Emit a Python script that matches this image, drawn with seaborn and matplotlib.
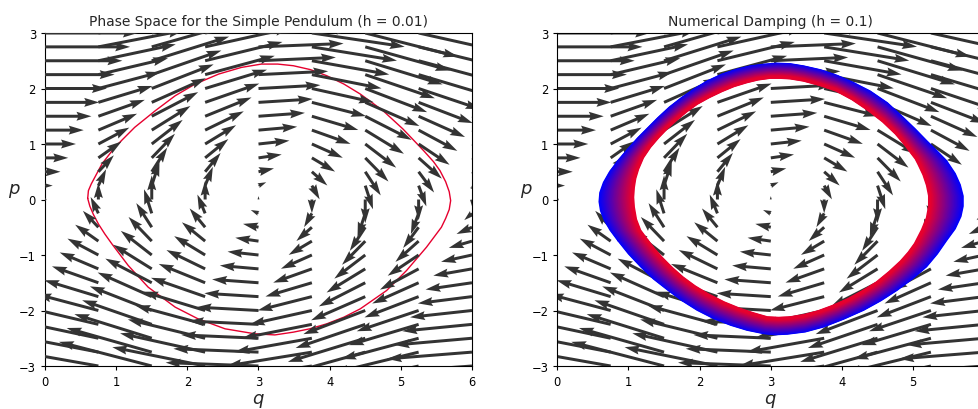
import numpy as np
import pandas as pd
import seaborn as sns
import matplotlib
matplotlib.use('Agg')
import matplotlib.pyplot as plt

# vector field grid (q columns, p rows) and vertical component read per column
q_cols = [0.0, 0.75, 1.5, 2.25, 3.0, 3.75, 4.5, 5.25, 6.0]
p_rows = [-3.0, -2.75, -2.5, -2.25, -2.0, -1.75, -1.5, -1.25, -1.0, -0.75, -0.5, -0.25,
          0.0, 0.25, 0.5, 0.75, 1.0, 1.25, 1.5, 1.75, 2.0, 2.25, 2.5, 2.75, 3.0]
v_col = [0.0, 0.68, 1.0, 0.78, 0.14, -0.57, -0.98, -0.86, -0.28]

# left panel orbit (h = 0.01), (q, p) pairs
orbit_pts = [(0.60, 0.02), (0.61, 0.16), (0.65, 0.28), (0.70, 0.40), (0.80, 0.64), (0.98, 0.94),
             (1.26, 1.30), (1.55, 1.60), (1.83, 1.87), (2.11, 2.08), (2.44, 2.26), (2.76, 2.38),
             (3.04, 2.44), (3.27, 2.44), (3.49, 2.41), (3.73, 2.34), (3.96, 2.23), (4.20, 2.08),
             (4.43, 1.90), (4.75, 1.60), (5.03, 1.27), (5.32, 0.88), (5.46, 0.68), (5.55, 0.52),
             (5.63, 0.32), (5.68, 0.14), (5.70, -0.02), (5.68, -0.18), (5.63, -0.34), (5.57, -0.50),
             (5.36, -0.86), (5.08, -1.28), (4.80, -1.64), (4.43, -1.97), (4.20, -2.12), (3.96, -2.24),
             (3.72, -2.33), (3.49, -2.39), (3.23, -2.44), (2.95, -2.42), (2.53, -2.33), (2.15, -2.15),
             (1.83, -1.94), (1.45, -1.58), (1.17, -1.19), (0.94, -0.80), (0.84, -0.62), (0.75, -0.44),
             (0.68, -0.27), (0.63, -0.12)]

# right panel band (h = 0.1): first orbit (blue, outside) and last orbit (red, inside)
outer_pts = [(0.86, -0.73), (0.75, -0.54), (0.67, -0.36), (0.62, -0.20), (0.60, -0.04),
             (0.61, 0.12), (0.66, 0.30), (0.74, 0.48), (0.86, 0.69),
             (1.00, 0.90), (1.14, 1.10), (1.28, 1.28), (1.42, 1.46), (1.58, 1.65), (1.75, 1.82),
             (1.93, 1.98), (2.11, 2.12), (2.31, 2.24), (2.52, 2.33), (2.71, 2.39), (2.90, 2.42),
             (3.08, 2.44), (3.27, 2.43),
             (3.46, 2.39), (3.70, 2.32), (3.93, 2.22), (4.16, 2.09), (4.39, 1.94), (4.63, 1.73),
             (4.85, 1.47), (5.02, 1.26), (5.18, 1.05), (5.33, 0.86),
             (5.46, 0.69), (5.58, 0.46), (5.65, 0.26), (5.69, 0.06), (5.69, -0.12), (5.66, -0.30),
             (5.58, -0.52), (5.46, -0.73),
             (5.33, -0.97), (5.18, -1.20), (4.98, -1.42), (4.77, -1.62), (4.54, -1.81), (4.30, -1.98),
             (4.02, -2.14), (3.74, -2.28), (3.48, -2.37), (3.23, -2.41),
             (3.06, -2.42), (2.90, -2.40), (2.67, -2.34), (2.44, -2.25), (2.20, -2.13), (1.97, -1.98),
             (1.76, -1.81), (1.56, -1.62), (1.36, -1.42), (1.18, -1.20), (1.01, -0.97)]
inner_pts = [(1.27, -0.75), (1.16, -0.56), (1.10, -0.36), (1.07, -0.14), (1.06, 0.04),
             (1.07, 0.22), (1.09, 0.38), (1.13, 0.55), (1.20, 0.76),
             (1.30, 0.95), (1.42, 1.13), (1.54, 1.29), (1.67, 1.44), (1.81, 1.59), (1.96, 1.73),
             (2.13, 1.85), (2.31, 1.96), (2.48, 2.05), (2.66, 2.12), (2.82, 2.17), (2.99, 2.20),
             (3.13, 2.20), (3.27, 2.19),
             (3.46, 2.15), (3.69, 2.07), (3.92, 1.97), (4.15, 1.81), (4.38, 1.61), (4.58, 1.41),
             (4.76, 1.19), (4.88, 1.01), (4.98, 0.84), (5.04, 0.74),
             (5.08, 0.64), (5.15, 0.45), (5.20, 0.26), (5.23, 0.07), (5.23, -0.12), (5.20, -0.33),
             (5.13, -0.55), (5.03, -0.80),
             (4.94, -0.96), (4.83, -1.12), (4.67, -1.31), (4.49, -1.50), (4.29, -1.66), (4.09, -1.80),
             (3.88, -1.92), (3.67, -2.02), (3.47, -2.09), (3.27, -2.13),
             (3.11, -2.14), (2.95, -2.13), (2.76, -2.06), (2.57, -1.98), (2.34, -1.86), (2.11, -1.71),
             (1.93, -1.57), (1.76, -1.41), (1.61, -1.24), (1.47, -1.06), (1.36, -0.90)]

n_orbits = 45
arrow_color = '#333333'
red = '#e6002e'

sns.set_style('ticks')
plt.rcParams['font.family'] = ['DejaVu Sans']
plt.rcParams['axes.edgecolor'] = 'black'
plt.rcParams['xtick.color'] = 'black'
plt.rcParams['ytick.color'] = 'black'

fig = plt.figure(figsize=(9.79, 4.10), dpi=100)
W, H = 979, 410
ax1 = fig.add_axes([45 / W, 43 / H, 427 / W, 333 / H])
ax2 = fig.add_axes([557.3 / W, 43 / H, 427 / W, 333 / H])

Q, P = np.meshgrid(q_cols, p_rows)
U = P
V = np.tile(v_col, (len(p_rows), 1))

# left: orbit below the arrows
closed = orbit_pts + orbit_pts[:1]
left_df = pd.DataFrame(closed, columns=['q', 'p'])
sns.lineplot(data=left_df, x='q', y='p', sort=False, estimator=None, color=red,
             lw=1.0, ax=ax1, zorder=2)
ax1.quiver(Q, P, U, V, angles='xy', scale_units='xy', scale=2.3, color=arrow_color,
           width=0.007, zorder=3)

# right: arrows first, then the damped band on top
ax2.quiver(Q, P, U, V, angles='xy', scale_units='xy', scale=2.3, color=arrow_color,
           width=0.007, zorder=2)
rows = []
outer = outer_pts + outer_pts[:1]
inner = inner_pts + inner_pts[:1]
for k in range(n_orbits):
    t = k / (n_orbits - 1)
    for (a, b), (c, d) in zip(outer, inner):
        rows.append((a * (1 - t) + c * t, b * (1 - t) + d * t, k))
band_df = pd.DataFrame(rows, columns=['q', 'p', 'orbit'])
pal = sns.blend_palette(['#0000ff', red], n_colors=n_orbits)
sns.lineplot(data=band_df, x='q', y='p', hue='orbit', palette=pal, sort=False,
             estimator=None, lw=2.2, legend=False, ax=ax2, zorder=4)

for ax, title in [(ax1, 'Phase Space for the Simple Pendulum (h = 0.01)'),
                  (ax2, 'Numerical Damping (h = 0.1)')]:
    ax.set_xlim(0, 6)
    ax.set_ylim(-3, 3)
    ax.set_yticks(range(-3, 4))
    ax.tick_params(labelsize=8.3, length=3, width=0.8)
    ax.set_title(title, fontsize=10, pad=6)
    ax.set_xlabel('$q$', fontsize=13, labelpad=2)
    ax.set_ylabel('$p$', fontsize=13, rotation=0)
    ax.yaxis.set_label_coords(-0.072, 0.5)
    for s in ax.spines.values():
        s.set_linewidth(0.8)
ax1.set_xticks(range(0, 7))
ax2.set_xticks(range(0, 6))

fig.savefig('out.png', dpi=100)
